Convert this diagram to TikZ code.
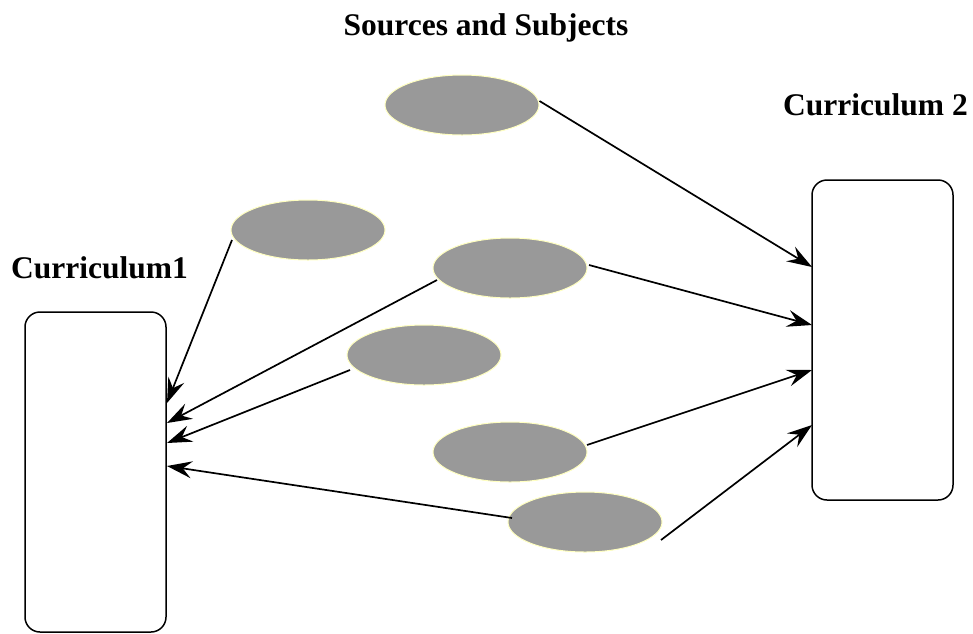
\documentclass[tikz,border=0pt]{standalone}
\usepackage{fontspec}
\setmainfont{Liberation Serif}
\usetikzlibrary{shapes.geometric,arrows.meta}
\definecolor{srcgray}{HTML}{999999}
\definecolor{srcrim}{HTML}{FFFFC0}
\tikzset{
  src/.style={ellipse,fill=srcgray,draw=srcrim,line width=1pt,
    minimum width=154pt,minimum height=60pt,inner sep=0pt},
  curbox/.style={draw,line width=1.5pt,rounded corners=15pt,
    minimum width=141pt,minimum height=320pt,inner sep=0pt},
  link/.style={line width=1.7pt,-{Stealth[length=25pt,width=17pt,inset=9pt]}},
  lbl/.style={anchor=base,font=\bfseries\fontsize{31.5}{36}\selectfont}
}
\begin{document}
\begin{tikzpicture}[x=1pt,y=-1pt]
        \useasboundingbox (0,0) rectangle (973,633);
        % titles
        \node[lbl] (ttl) at (486,35) {Sources and Subjects};
        \node[lbl] (cna) at (99.5,278) {Curriculum1};
        \node[lbl] (cnb) at (875.5,115) {Curriculum 2};
        % curricula
        \node[curbox] (ca) at (95.5,472) {};
        \node[curbox] (cb) at (882.5,340) {};
        % sources
        \node[src] (s1) at (462,105) {};
        \node[src] (s2) at (308,230) {};
        \node[src] (s3) at (510,268) {};
        \node[src] (s4) at (424,355) {};
        \node[src] (s5) at (510,452) {};
        \node[src] (s6) at (585,522) {};
        % links
        \draw[link] (s1.east) ++(0,-4) -- (812,267);
        \draw[link] (s3) ++(79,-3) -- (812,325);
        \draw[link] (s5) ++(77,-7) -- (812,370);
        \draw[link] (s6) ++(76,18) -- (812,425);
        \draw[link] (s2) ++(-76,10) -- (167,403);
        \draw[link] (s3) ++(-73,12) -- (167,423);
        \draw[link] (s4) ++(-74,15) -- (167,443);
        \draw[link] (s6) ++(-73,-4) -- (167,466);
    \end{tikzpicture}
\end{document}
